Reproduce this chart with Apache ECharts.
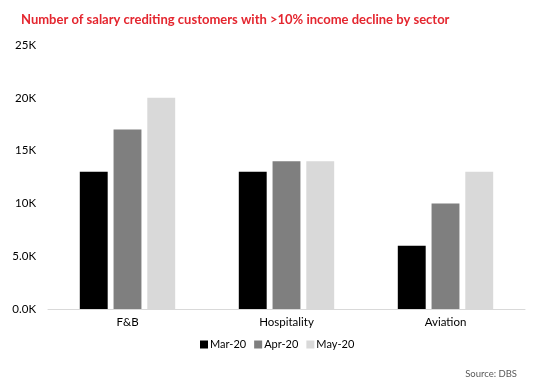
<!DOCTYPE html>
<html><head><meta charset="utf-8">
<script src="https://cdn.jsdelivr.net/npm/echarts@6/dist/echarts.min.js"></script>
<style>html,body{margin:0;padding:0;background:#fff}#c{width:536px;height:385px}</style>
</head><body><div id="c"></div>
<script>
const categories = ['F&B', 'Hospitality', 'Aviation'];
const seriesNames = ['Mar-20', 'Apr-20', 'May-20'];
const mar20 = [13000, 13000, 6000];
const apr20 = [17000, 14000, 10000];
const may20 = [20000, 14000, 13000];
const yTicks = [0, 5000, 10000, 15000, 20000, 25000];
const yTickLabels = ['0.0K', '5.0K', '10K', '15K', '20K', '25K'];
const colors = ['#000000', '#7f7f7f', '#d9d9d9'];
const values = [mar20, apr20, may20];

const font = 'Lato';
const chart = echarts.init(document.getElementById('c'));
chart.setOption({
  animation: false,
  title: [{
    text: 'Number of salary crediting customers with >10% income decline by sector',
    left: 16, top: 8,
    textStyle: {color: '#e4262f', fontSize: 13, fontWeight: 'bold', fontFamily: font}
  }, {
    text: 'Source: DBS', right: 14, top: 364,
    textStyle: {color: '#595959', fontSize: 9.5, fontWeight: 'normal', fontFamily: font}
  }],
  legend: {
    data: seriesNames, bottom: 30, left: 195,
    itemWidth: 8, itemHeight: 8, itemGap: 8, icon: 'rect',
    textStyle: {color: '#000', fontSize: 11, fontFamily: font, padding: [0, 0, 0, -3]}
  },
  grid: {left: 48, right: 11, top: 45, bottom: 76, containLabel: false},
  xAxis: {
    type: 'category', data: categories,
    axisLine: {lineStyle: {color: '#d9d9d9', width: 1}},
    axisTick: {show: false},
    axisLabel: {color: '#000', fontSize: 11.5, fontFamily: font, margin: 7}
  },
  yAxis: {
    type: 'value', min: 0, max: 25000, interval: 5000,
    splitLine: {show: false}, axisLine: {show: false}, axisTick: {show: false},
    axisLabel: {color: '#000', fontSize: 11.5, fontFamily: font, margin: 12,
      formatter: v => yTickLabels[yTicks.indexOf(v)]}
  },
  series: seriesNames.map((n, i) => ({
    name: n, type: 'bar', data: values[i],
    itemStyle: {color: colors[i]},
    barGap: '21%', barCategoryGap: '40%'
  }))
});
</script></body></html>
